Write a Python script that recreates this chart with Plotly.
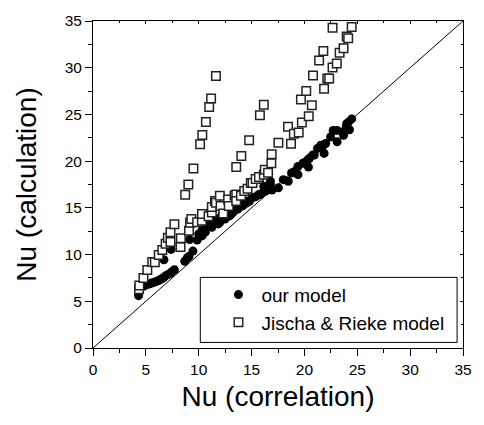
import plotly.graph_objects as go

# "our model" (filled circles): Nu (correlation), Nu (calculation)
our_x = [4.31, 4.77, 5.08, 5.3, 5.54, 5.8, 6.0, 6.25, 6.46, 6.7, 6.93, 7.15, 7.33, 7.5, 7.7,
         6.71, 7.39, 8.68, 8.93, 9.08, 9.45, 8.25, 9.14, 9.85, 10.0, 10.31, 10.31, 10.62, 10.6,
         10.93, 11.24, 11.24, 11.54, 11.85, 11.85, 12.0, 12.16, 12.47, 12.47, 12.47, 12.62, 12.93,
         12.93, 13.08, 13.24, 13.39, 13.55, 13.7, 14.16, 14.16, 14.5, 14.62, 14.8, 15.09, 15.4,
         15.7, 15.85, 16.16, 16.16, 16.32, 16.62, 16.78, 16.93, 16.78, 17.54, 18.0, 18.47, 18.78,
         19.08, 19.39, 19.39, 19.85, 20.17, 20.38, 20.31, 20.47, 20.78, 20.93, 21.24, 21.55, 21.7,
         21.86, 22.01, 22.47, 22.72, 23.09, 23.09, 23.7, 23.7, 23.95, 24.0, 24.16, 24.26, 24.47]
our_y = [5.6, 6.6, 6.78, 6.85, 6.95, 7.05, 7.13, 7.25, 7.38, 7.55, 7.77, 7.9, 8.0, 8.2, 8.37,
         9.45, 10.55, 9.28, 9.66, 9.8, 10.37, 11.17, 11.6, 11.55, 12.2, 12.0, 12.58, 12.4, 12.8,
         13.1, 12.93, 13.28, 13.63, 13.28, 13.8, 13.46, 14.16, 13.8, 13.98, 14.69, 13.98, 14.16,
         14.51, 14.33, 14.51, 14.86, 14.86, 14.86, 15.21, 15.39, 15.5, 15.74, 15.7, 16.1, 16.2,
         16.44, 16.44, 16.8, 17.32, 16.8, 17.32, 17.5, 16.9, 17.85, 17.14, 18.02, 17.85, 18.73,
         18.9, 18.55, 19.43, 19.78, 19.96, 19.36, 20.13, 20.3, 20.65, 20.65, 21.36, 21.71, 21.54,
         20.83, 21.89, 22.59, 23.29, 23.29, 22.07, 22.76, 23.12, 23.65, 24.0, 24.17, 23.36, 24.52]

# "Jischa & Rieke model" (open squares)
jr_x = [4.35, 4.38, 4.77, 5.14, 5.6, 5.85, 6.22, 6.56, 6.87, 7.08, 7.33, 7.33, 7.7, 8.28, 8.31,
        9.08, 9.18, 9.3, 9.85, 10.3, 10.31, 10.93, 11.24, 11.24, 11.54, 11.63, 12.0, 12.07, 12.32,
        12.78, 12.84, 13.39, 13.55, 13.55, 14.0, 14.31, 14.62, 14.93, 15.09, 15.39, 15.7, 16.16,
        16.25, 16.56,
        8.72, 9.02, 9.5, 10.13, 10.34, 10.68, 10.99, 11.17, 11.63,
        13.55, 14.03, 14.77, 15.79, 16.16, 16.87, 16.9, 17.54, 18.45, 18.73, 19.0, 19.46, 19.67,
        19.76, 20.17, 20.41, 20.7, 20.81, 21.39, 21.79, 21.86, 22.16, 22.34, 22.66, 22.66, 23.06,
        23.33, 23.7, 24.0, 24.14, 24.47]
jr_y = [6.3, 6.7, 7.5, 8.35, 9.2, 9.17, 9.95, 10.5, 11.17, 11.8, 12.4, 11.35, 13.25, 10.8, 11.75,
        12.55, 13.4, 13.8, 13.45, 13.63, 14.33, 14.09, 14.5, 15.1, 15.74, 15.56, 16.3, 15.2, 14.4,
        15.9, 15.2, 16.33, 16.44, 15.74, 16.3, 16.8, 17.04, 17.67, 17.67, 18.09, 18.3, 18.55,
        19.07, 18.75,
        16.4, 17.5, 19.2, 21.8, 22.8, 24.2, 25.8, 26.7, 29.1,
        19.37, 20.55, 22.23, 24.9, 26.03, 19.78, 20.75, 21.96, 23.67, 21.85, 22.92, 23.07, 26.6,
        24.13, 27.52, 24.8, 25.98, 29.16, 30.77, 31.79, 27.76, 28.84, 28.84, 30.03, 34.29, 30.45,
        31.6, 32.07, 33.34, 33.16, 34.35]

axis_range = [0, 35]
tick_vals = [0, 5, 10, 15, 20, 25, 30, 35]

FONT = "Arial, Liberation Sans, sans-serif"

fig = go.Figure()
fig.add_trace(go.Scatter(x=axis_range, y=axis_range, mode="lines",
                         line=dict(color="black", width=1), showlegend=False, hoverinfo="skip"))
fig.add_trace(go.Scatter(x=our_x, y=our_y, mode="markers", name="our model",
                         marker=dict(symbol="circle", size=9, color="black",
                                     line=dict(width=0))))
fig.add_trace(go.Scatter(x=jr_x, y=jr_y, mode="markers", name="Jischa & Rieke model",
                         marker=dict(symbol="square", size=8.5, color="white",
                                     line=dict(width=1.5, color="#222222"))))
# dummy trace to hold the mirrored top/right axes
fig.add_trace(go.Scatter(x=[None], y=[None], xaxis="x2", yaxis="y2", showlegend=False,
                         hoverinfo="skip"))

common = dict(range=axis_range, tickvals=tick_vals, showgrid=False, zeroline=False,
              showline=True, linecolor="black", linewidth=1)

fig.update_layout(
    width=484, height=425,
    margin=dict(l=93, r=12, t=16, b=77),
    paper_bgcolor="white", plot_bgcolor="white",
    font=dict(family=FONT, color="black"),
    xaxis=dict(**common, ticks="outside", ticklen=7, tickwidth=1, tickcolor="black",
               minor=dict(ticks="outside", ticklen=4, tickwidth=1, tickcolor="black", dtick=2.5),
               tickfont=dict(size=15.5, family=FONT),
               title=dict(text="Nu (correlation)", font=dict(size=28, family=FONT), standoff=9)),
    yaxis=dict(**common, ticks="outside", ticklen=7, tickwidth=1, tickcolor="black",
               minor=dict(ticks="outside", ticklen=4, tickwidth=1, tickcolor="black", dtick=2.5),
               tickfont=dict(size=15.5, family=FONT),
               title=dict(text="Nu (calculation)", font=dict(size=28, family=FONT), standoff=19)),
    xaxis2=dict(**common, overlaying="x", side="top", anchor="y", showticklabels=False,
                ticks="inside", ticklen=3, tickcolor="black",
                minor=dict(ticks="inside", ticklen=2, tickcolor="black", dtick=2.5)),
    yaxis2=dict(**common, overlaying="y", side="right", anchor="x", showticklabels=False,
                ticks="inside", ticklen=3, tickcolor="black",
                minor=dict(ticks="inside", ticklen=2, tickcolor="black", dtick=2.5)),
    legend=dict(x=0.331, xanchor="left", y=0.221, yanchor="top",
                bgcolor="rgba(0,0,0,0)", borderwidth=0, itemwidth=36,
                font=dict(size=19, family=FONT)),
    shapes=[dict(type="rect", xref="paper", yref="paper", x0=0.29, x1=0.984,
                 y0=0.017, y1=0.216, line=dict(color="black", width=1),
                 fillcolor="white", layer="below")],
)

fig.write_html("out.html")
